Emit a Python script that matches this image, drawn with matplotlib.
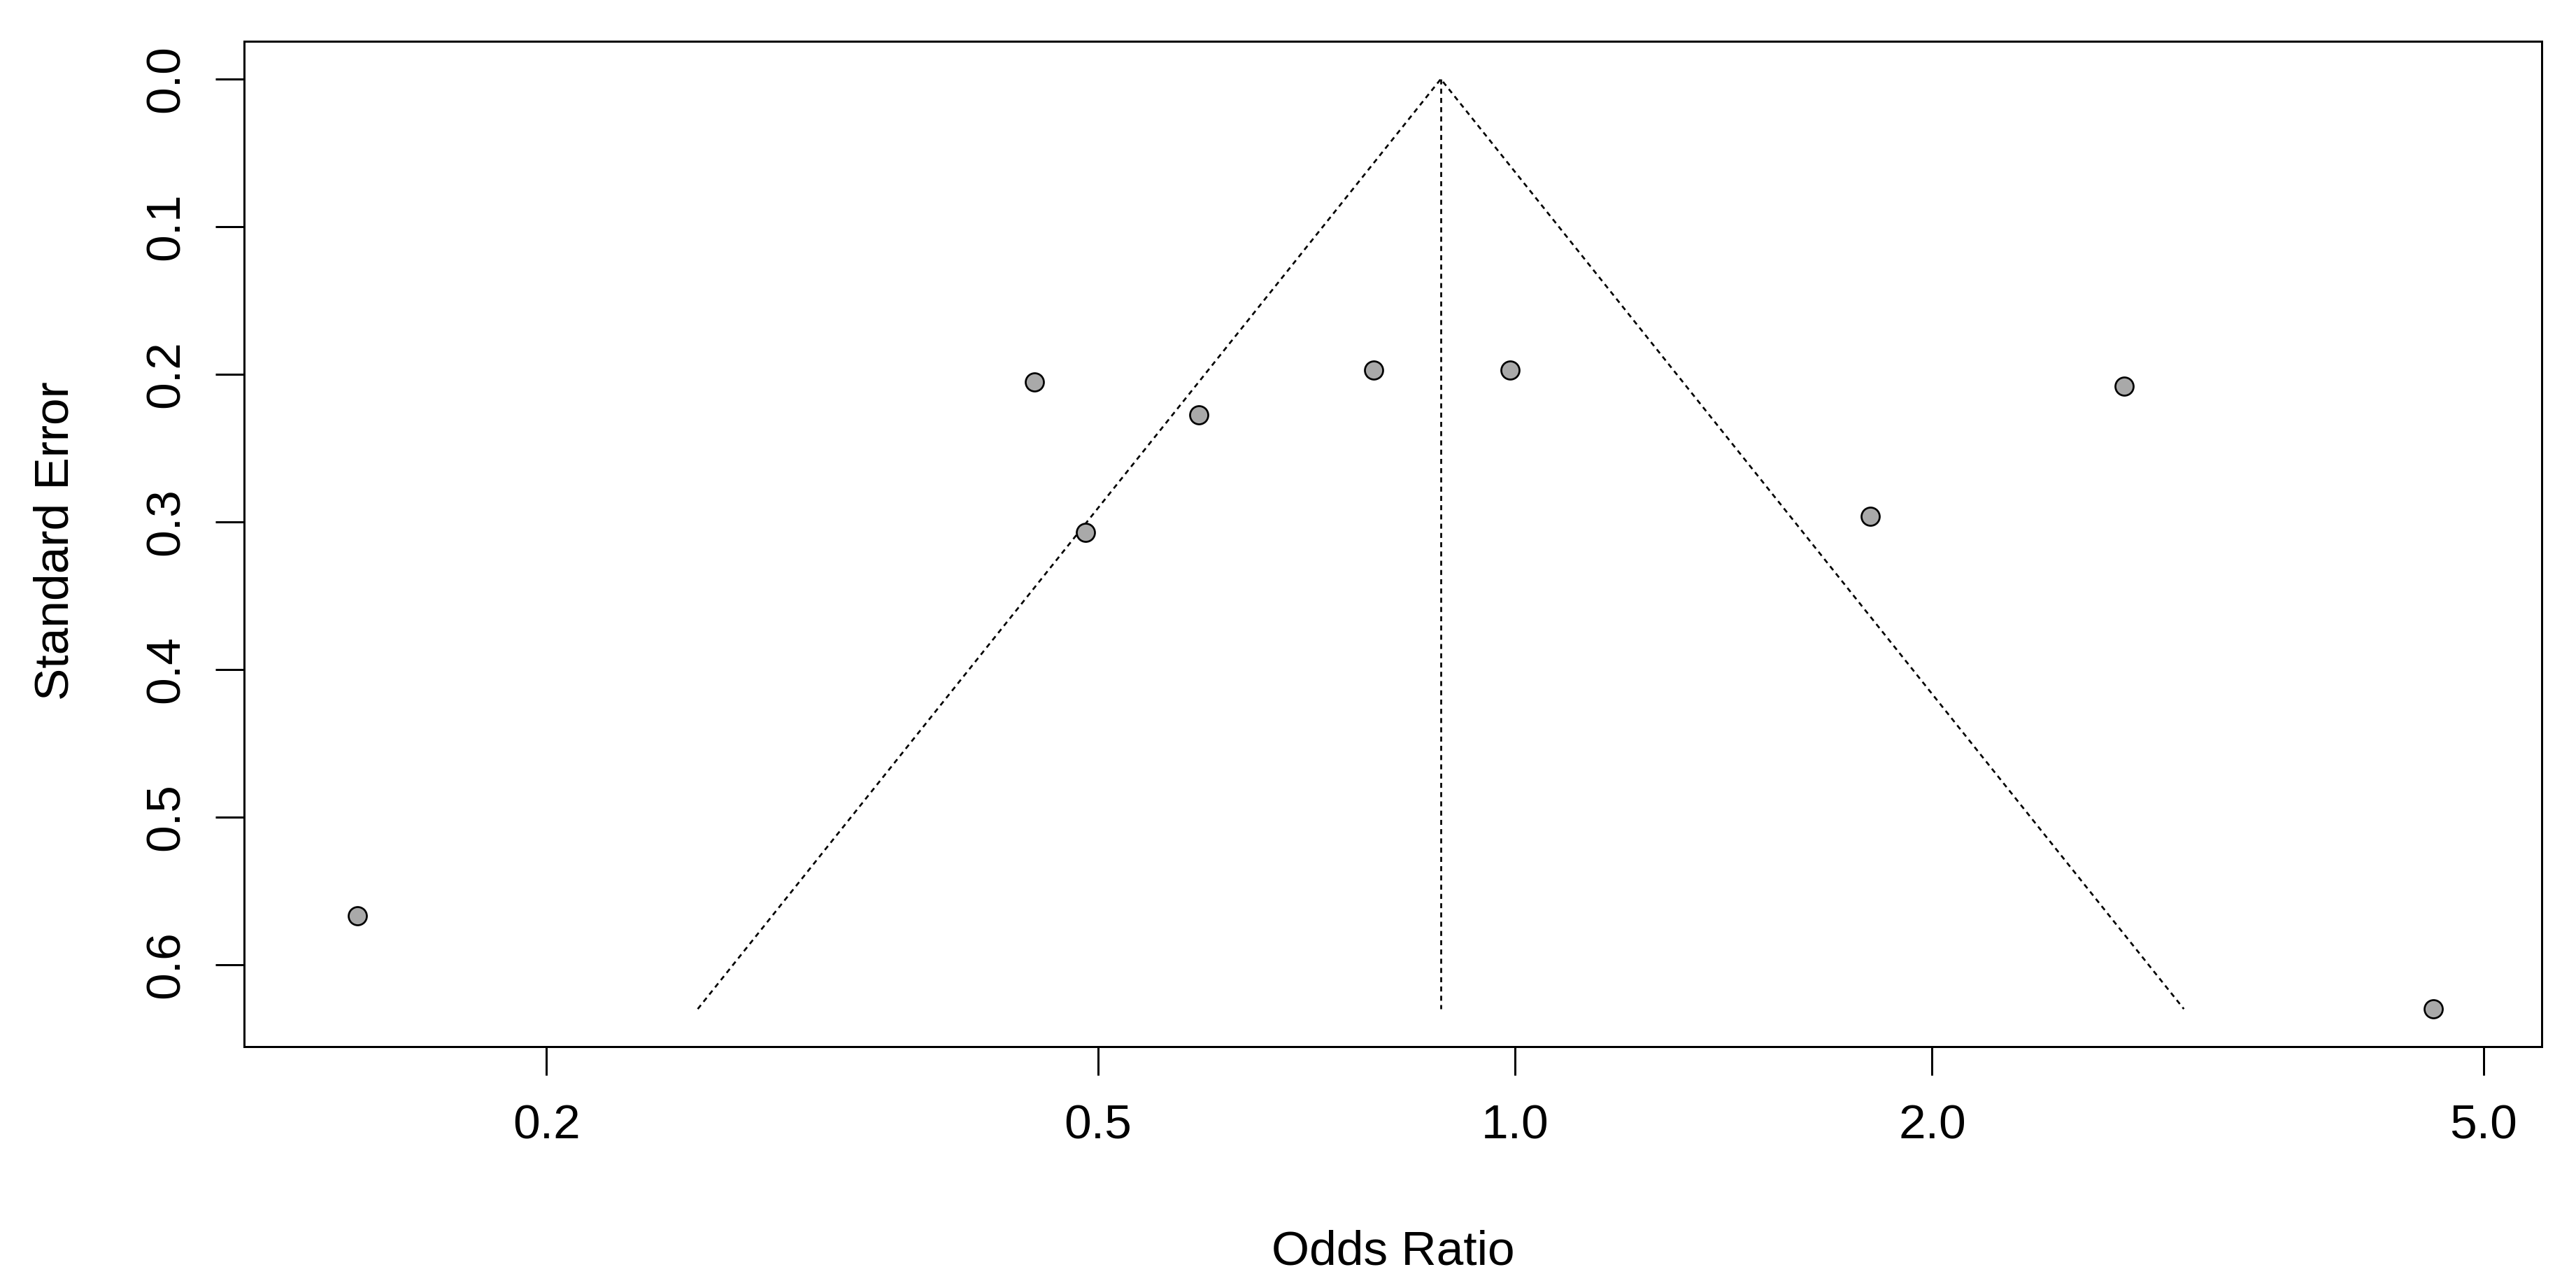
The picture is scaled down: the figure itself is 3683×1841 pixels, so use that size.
import numpy as np
import matplotlib
matplotlib.use("Agg")
import matplotlib.pyplot as plt

# funnel plot data
odds_ratio = [0.146, 0.450, 0.490, 0.591, 0.791, 0.992, 1.805, 2.751, 4.60]
std_error  = [0.567, 0.205, 0.307, 0.2275, 0.197, 0.197, 0.296, 0.208, 0.630]
pooled_or  = 0.884
x_ticks  = [0.2, 0.5, 1.0, 2.0, 5.0]
x_labels = ["0.2", "0.5", "1.0", "2.0", "5.0"]
y_ticks  = [0.0, 0.1, 0.2, 0.3, 0.4, 0.5, 0.6]
y_labels = ["0.0", "0.1", "0.2", "0.3", "0.4", "0.5", "0.6"]

plt.rcParams['font.family'] = ['Liberation Sans', 'DejaVu Sans']
W, H, DPI = 3683, 1841, 100
fig = plt.figure(figsize=(W/DPI, H/DPI), dpi=DPI)
px = 72/DPI  # points per pixel

L, R, T, B = 349, 3634, 59, 1496
ax = fig.add_axes([L/W, 1-B/H, (R-L)/W, (B-T)/H])

# funnel (pseudo 95% CI region) and reference line
se_max = max(std_error)
th = np.log(pooled_or)
fx = np.exp([th-1.96*se_max, th, th+1.96*se_max])
fy = [se_max, 0, se_max]
dot = (0, (2.65, 2.25))
ax.plot(fx, fy, color="black", lw=2.7*px, ls=dot)
ax.plot([pooled_or, pooled_or], [0, se_max], color="black", lw=2.7*px, ls=dot)

ax.plot(odds_ratio, std_error, ls="none", marker="o", ms=26*px,
        mfc="#a9a9a9", mec="black", mew=2.7*px)

ax.set_xscale("log")
ax.set_xlim(0.1210, 5.508)
ax.set_ylim(0.6555, -0.02559)
ax.set_xticks(x_ticks)
ax.set_xticklabels(x_labels)
ax.xaxis.set_minor_locator(matplotlib.ticker.NullLocator())
ax.set_yticks(y_ticks)
ax.set_yticklabels(y_labels, rotation=90, va="center")

for s in ax.spines.values():
    s.set_linewidth(3*px)
ax.tick_params(axis="both", direction="out", length=41*px, width=3*px,
               labelsize=50, color="black")
ax.tick_params(axis="x", pad=40*px)
ax.tick_params(axis="y", pad=38*px)

fig.text(1991.5/W, 1-1807/H, "Odds Ratio", fontsize=50, ha="center", va="baseline")
fig.text(98/W, 1-773/H, "Standard Error", fontsize=50, rotation=90,
         rotation_mode="anchor", ha="center", va="baseline")

fig.savefig("out.png", dpi=DPI, facecolor="white")
